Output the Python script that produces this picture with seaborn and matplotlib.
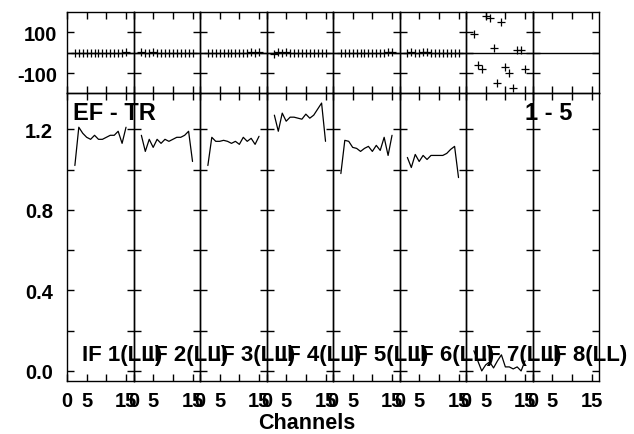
import matplotlib
matplotlib.use('Agg')
import numpy as np
import pandas as pd
import matplotlib.pyplot as plt
import seaborn as sns

# ─── DATA ────────────────────────────────────────────
channels = list(range(2, 16))

amp_if1 = [1.02, 1.21, 1.18, 1.16, 1.15, 1.17, 1.15, 1.15, 1.16, 1.17, 1.17, 1.19, 1.13, 1.21]
amp_if2 = [1.17, 1.09, 1.15, 1.11, 1.15, 1.13, 1.15, 1.14, 1.15, 1.16, 1.16, 1.17, 1.19, 1.04]
amp_if3 = [1.02, 1.16, 1.14, 1.14, 1.145, 1.14, 1.13, 1.14, 1.125, 1.16, 1.14, 1.155, 1.125, 1.165]
amp_if4 = [1.27, 1.19, 1.28, 1.24, 1.26, 1.26, 1.255, 1.25, 1.275, 1.255, 1.27, 1.30, 1.33, 1.14]
amp_if5 = [0.98, 1.145, 1.14, 1.11, 1.105, 1.09, 1.105, 1.115, 1.09, 1.12, 1.095, 1.16, 1.07, 1.17]
amp_if6 = [1.06, 1.01, 1.075, 1.04, 1.07, 1.05, 1.07, 1.07, 1.07, 1.07, 1.08, 1.10, 1.115, 0.96]
amp_if7 = [0.10, 0.05, 0.00, 0.03, 0.045, 0.015, 0.05, 0.08, 0.02, 0.02, 0.01, 0.02, 0.00, 0.05]

phase_if1 = [1, -2, 2, 0, -1, 2, 0, 1, -2, 1, 0, 2, -1, 6]
phase_if2 = [5, -2, 1, 3, 0, -1, 2, 0, 1, -1, 0, 2, 0, 1]
phase_if3 = [0, 2, -1, 1, 0, 2, -1, 0, 1, -2, 0, 3, 1, 5]
phase_if4 = [-3, 4, 1, 3, 0, 2, -1, 1, 0, 2, -1, 0, 1, 2]
phase_if5 = [0, 1, -1, 2, 0, 1, -1, 2, 0, 1, -1, 2, 4, 5]
phase_if6 = [2, 4, 1, 0, 3, 5, 1, 0, 2, -1, 0, 1, 0, 2]
phase_if7 = [91, -57, -78, 182, 169, 24, -146, 153, -67, -98, -171, 16, 15, -81]

if_labels = ['IF 1(LL)', 'IF 2(LL)', 'IF 3(LL)', 'IF 4(LL)',
             'IF 5(LL)', 'IF 6(LL)', 'IF 7(LL)', 'IF 8(LL)']
amp_ticks = [0.0, 0.2, 0.4, 0.6, 0.8, 1.0, 1.2]
amp_ticklabels = ['0.0', '', '0.4', '', '0.8', '', '1.2']
phase_ticks = [-100, 0, 100]
phase_ticklabels = ['-100', '', '100']
chan_ticks = [0, 5, 10, 15]
chan_ticklabels = ['0', '5', '', '15']

amps = [amp_if1, amp_if2, amp_if3, amp_if4, amp_if5, amp_if6, amp_if7]
phases = [phase_if1, phase_if2, phase_if3, phase_if4, phase_if5, phase_if6, phase_if7]

df = pd.concat([
    pd.DataFrame({'IF': k + 1, 'channel': channels, 'amp': a, 'phase': p})
    for k, (a, p) in enumerate(zip(amps, phases))
], ignore_index=True)

# ─── STYLE ────────────────────────────────────────────
sns.set_theme(style='ticks')
plt.rcParams.update({
    'font.family': ['Liberation Sans', 'DejaVu Sans'],
    'font.weight': 'bold',
    'text.color': 'black',
    'axes.labelcolor': 'black',
    'axes.facecolor': 'none',
    'axes.edgecolor': 'black',
    'axes.linewidth': 1.0,
    'xtick.color': 'black',
    'ytick.color': 'black',
})

fig = plt.figure(figsize=(6.34, 4.35), dpi=100)
gs = fig.add_gridspec(2, 8, height_ratios=[81, 288],
                      left=67 / 634, right=599 / 634,
                      top=1 - 13 / 435, bottom=1 - 382 / 435,
                      wspace=0, hspace=0)

for i in range(8):
    axp = fig.add_subplot(gs[0, i])
    axa = fig.add_subplot(gs[1, i])
    sub = df[df['IF'] == i + 1]
    if len(sub):
        sns.scatterplot(data=sub, x='channel', y='phase', marker='+', color='black',
                        s=30, linewidth=0.9, ax=axp, legend=False, zorder=3)
        sns.lineplot(data=sub, x='channel', y='amp', color='black', lw=0.9,
                     ax=axa, legend=False)
    axp.axhline(0, color='black', lw=1)

    for ax in (axp, axa):
        ax.set_xlim(0, 16.9)
        ax.set_xticks(chan_ticks)
        ax.set_xlabel('')
        ax.set_ylabel('')
        ax.tick_params(direction='in', length=5, width=1, top=True, right=True,
                       labelsize=14.5)
        for s in ax.spines.values():
            s.set_color('black')
    axp.set_ylim(-196, 200)
    axp.set_yticks(phase_ticks)
    axp.set_yticklabels(phase_ticklabels, fontweight='bold')
    axp.tick_params(labelbottom=False, labelleft=(i == 0), pad=7)
    axa.set_ylim(-0.05, 1.38)
    axa.set_yticks(amp_ticks)
    axa.set_yticklabels(amp_ticklabels, fontweight='bold')
    axa.set_xticklabels(chan_ticklabels, fontweight='bold')
    axa.tick_params(axis='y', labelleft=(i == 0), pad=10)
    axa.tick_params(axis='x', pad=7)

    axa.text(3.73, 0.056, if_labels[i], fontsize=16, fontweight='bold',
             va='baseline', ha='left', clip_on=False, zorder=5)
    if i == 0:
        axa.text(1.5, 1.284, 'EF - TR', fontsize=17, fontweight='bold',
                 va='center', ha='left', clip_on=False, zorder=5)
    if i == 7:
        axa.text(-2.0, 1.284, '1 - 5', fontsize=17, fontweight='bold',
                 va='center', ha='left', clip_on=False, zorder=5)

fig.text(307 / 634, 1 - 424 / 435, 'Channels', fontsize=15.5, fontweight='bold',
         ha='center', va='center')

fig.savefig('out.png', dpi=100, facecolor='white')
